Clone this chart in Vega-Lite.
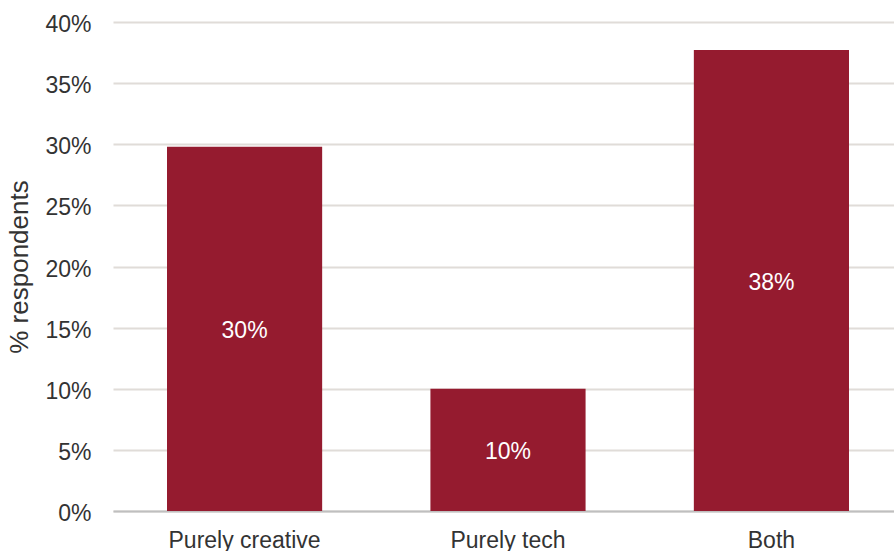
{
  "$schema": "https://vega.github.io/schema/vega-lite/v6.json",
  "width": 790,
  "height": 489,
  "autosize": {"type": "none"},
  "padding": {"left": 113, "top": 22, "right": 0, "bottom": 40},
  "background": "white",
  "config": {
    "view": {"stroke": null},
    "font": "Liberation Sans"
  },
  "data": {
    "values": [
      {"category": "Purely creative", "value": 0.298},
      {"category": "Purely tech", "value": 0.100},
      {"category": "Both", "value": 0.377}
    ]
  },
  "encoding": {
    "x": {
      "field": "category",
      "type": "nominal",
      "sort": null,
      "scale": {"paddingInner": 0.411, "paddingOuter": 0.205},
      "axis": {
        "title": null,
        "labelAngle": 0,
        "labelFontSize": 23,
        "labelColor": "#333333",
        "labelFont": "Liberation Sans",
        "labelPadding": 18,
        "ticks": false,
        "domainColor": "#bfbfbf",
        "domainWidth": 2
      }
    }
  },
  "resolve": {"scale": {"y": "independent"}},
  "layer": [
    {
      "mark": {"type": "bar", "color": "#951b2f"},
      "encoding": {
        "y": {
          "field": "value",
          "type": "quantitative",
          "scale": {"domain": [0, 0.4], "nice": false},
          "axis": {
            "title": "% respondents",
            "titleFontSize": 26,
            "titleFontWeight": "normal",
            "titleColor": "#333333",
            "titleFont": "Liberation Sans",
            "titlePadding": 12,
            "format": ".0%",
            "values": [0, 0.05, 0.1, 0.15, 0.2, 0.25, 0.3, 0.35, 0.4],
            "labelFontSize": 23,
            "labelColor": "#333333",
            "labelFont": "Liberation Sans",
            "labelPadding": 22,
            "labelOffset": 2.5,
            "ticks": false,
            "domain": false,
            "gridColor": "#e0dcd8",
            "gridWidth": 2
          }
        }
      }
    },
    {
      "mark": {"type": "text", "color": "white", "fontSize": 23, "font": "Liberation Sans", "baseline": "middle", "dy": 2.5},
      "encoding": {
        "y": {
          "field": "value",
          "type": "quantitative",
          "scale": {"domain": [0, 0.8], "nice": false},
          "axis": null
        },
        "text": {"field": "value", "type": "quantitative", "format": ".0%"}
      }
    }
  ]
}
